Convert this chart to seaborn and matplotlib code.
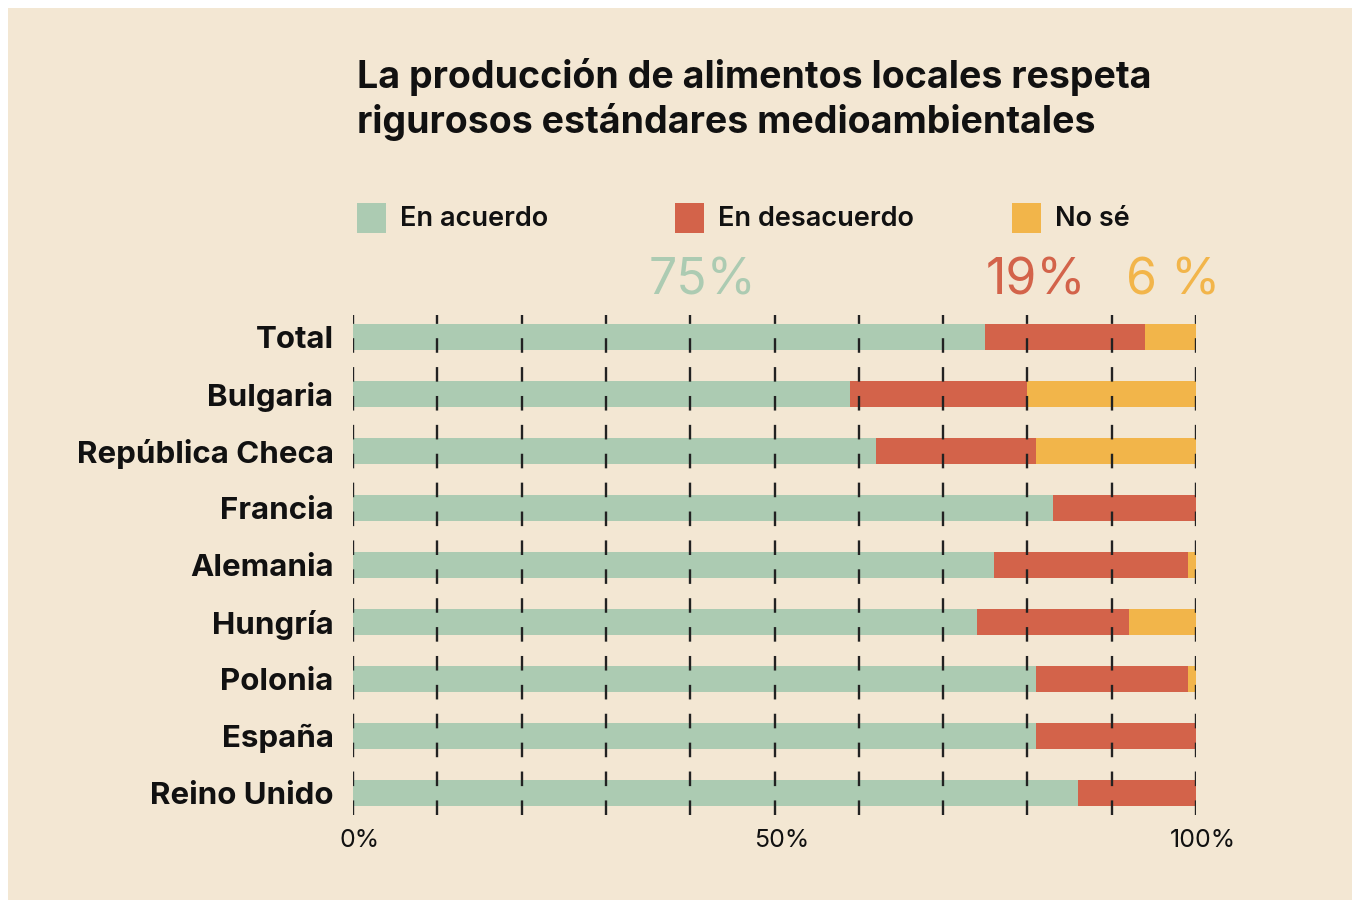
import matplotlib
matplotlib.use("Agg")
import matplotlib.pyplot as plt
import seaborn as sns
import pandas as pd
from matplotlib.patches import Rectangle
from matplotlib.transforms import ScaledTranslation

# ---- data ----
countries = ["Total", "Bulgaria", "República Checa", "Francia", "Alemania",
             "Hungría", "Polonia", "España", "Reino Unido"]
acuerdo = [75, 59, 62, 83, 76, 74, 81, 81, 86]
desacuerdo = [19, 21, 19, 17, 23, 18, 18, 19, 14]
no_se = [6, 20, 19, 0, 1, 8, 1, 0, 0]
series = ["En acuerdo", "En desacuerdo", "No sé"]
total_labels = ["75%", "19%", "6 %"]
xtick_values = [0, 50, 100]
xtick_labels = ["0%", "50%", "100%"]
title_lines = ["La producción de alimentos locales respeta",
               "rigurosos estándares medioambientales"]

BG = "#F3E7D3"
GREEN = "#ACCBB2"
RED = "#D3634A"
YELLOW = "#F2B54A"
TXT = "#111111"
colors = [GREEN, RED, YELLOW]

sns.set_theme(style="white")
plt.rcParams['font.family'] = ['Inter', 'DejaVu Sans']
plt.rcParams['lines.scale_dashes'] = False

W, H = 1352, 901
fig = plt.figure(figsize=(W / 100, H / 100), dpi=100, facecolor="white")
fig.patches.append(Rectangle((8 / W, 1 / H), (W - 8) / W, (H - 9) / H,
                             transform=fig.transFigure, facecolor=BG,
                             edgecolor="none", zorder=-10))

ax = fig.add_axes([353 / W, 1 - 815 / H, 843 / W, 500 / H])
ax.set_facecolor("none")

df = pd.DataFrame({"country": countries, "a": acuerdo, "d": desacuerdo, "n": no_se})
df["ad"] = df["a"] + df["d"]
df["all"] = df["ad"] + df["n"]

for col, c in [("all", YELLOW), ("ad", RED), ("a", GREEN)]:
    sns.barplot(data=df, y="country", x=col, color=c, orient="h", width=0.46,
                saturation=1, errorbar=None, ax=ax, linewidth=0)

ax.set_xlim(0, 100)
ax.set_ylim(len(countries) - 1 + 0.39, -0.39)
ax.set_xlabel("")
ax.set_ylabel("")
for s in ax.spines.values():
    s.set_visible(False)

ax.set_xticks(xtick_values)
ax.set_xticks([v for v in range(10, 100, 10) if v not in xtick_values], minor=True)
ax.set_xticklabels(xtick_labels, fontsize=18, color=TXT)
ax.tick_params(axis="x", which="both", length=0, pad=10)
for lab in ax.get_xticklabels():
    lab.set_transform(lab.get_transform() + ScaledTranslation(5 / 72, 0, fig.dpi_scale_trans))
ax.tick_params(axis="y", length=0, pad=14)
for lab in ax.get_yticklabels():
    lab.set_fontsize(22.5)
    lab.set_fontweight("bold")
    lab.set_color(TXT)

ax.set_axisbelow(False)
ax.grid(axis="x", which="both", color="#222222", linewidth=1.7,
        linestyle=(0, (10.5, 10.3)))
ax.grid(axis="y", visible=False)

# title
for yb, line in zip([88, 133], title_lines):
    fig.text(357 / W, 1 - yb / H, line, fontsize=27, fontweight="bold", color=TXT,
             va="baseline", ha="left")

# legend
leg_x = [357, 675, 1012]
for x, name, c in zip(leg_x, series, colors):
    fig.patches.append(Rectangle((x / W, 1 - 233 / H), 29 / W, 30 / H,
                                 transform=fig.transFigure, facecolor=c, edgecolor="none"))
    fig.text((x + 43) / W, 1 - 219 / H, name, fontsize=19.5, fontweight="semibold",
             color=TXT, va="center", ha="left")

# big totals
for cx, lab, c in zip([702, 1036, 1173], total_labels, colors):
    fig.text(cx / W, 1 - 281 / H, lab, fontsize=36, color=c, va="center", ha="center")

fig.savefig("out.png", dpi=100, facecolor=fig.get_facecolor())
